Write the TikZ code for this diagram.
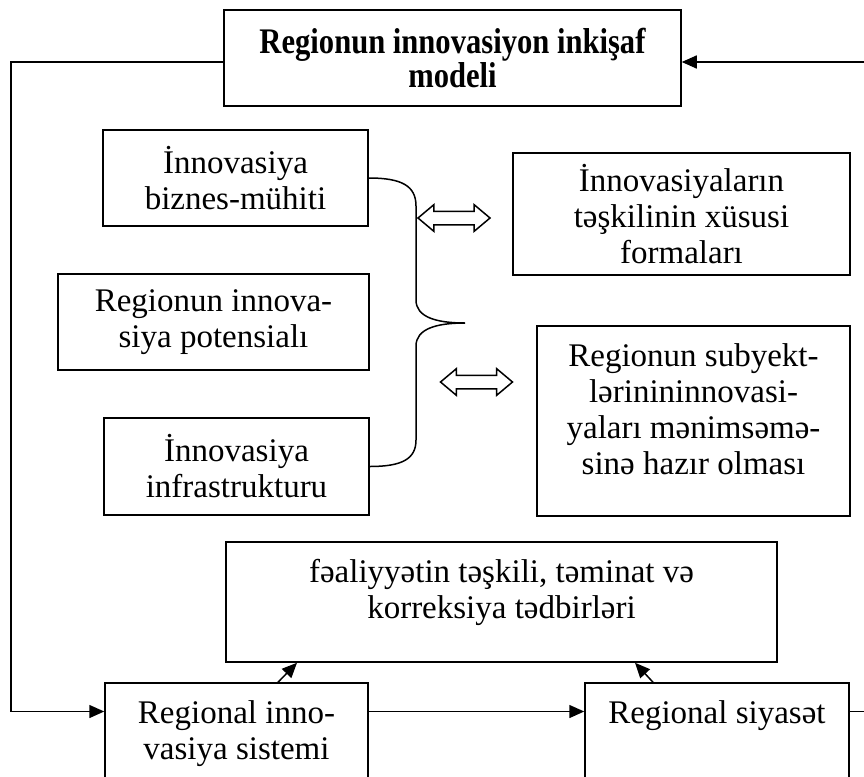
\documentclass[tikz,border=0pt]{standalone}
\usepackage{fontspec}
\setmainfont{Liberation Serif}
\newfontfamily\basliq{Liberation Serif}[FakeStretch=0.85]
\usetikzlibrary{arrows.meta,shapes.arrows}

\newcommand{\ustmetn}[3]{\parbox[c][#2][t]{#1}{\centering\vspace*{15pt}\strut#3}}

\begin{document}
\begin{tikzpicture}[x=1pt,y=-1pt,
  blok/.style={draw,line width=1.5pt,inner sep=0pt,align=center,font=\fontsize{33}{36}\selectfont},
  xet/.style={line width=1.5pt},
  ox/.style={xet,-{Triangle[length=15pt,width=13pt]}},
  qosa/.style={draw,line width=1.5pt,double arrow,double arrow head extend=6.5pt,
    double arrow tip angle=80,minimum height=72pt,inner xsep=0pt,inner ysep=6pt}] % sxem

\useasboundingbox (0,0) rectangle (864,776);
\clip (0,0) rectangle (864,776);

\node[blok,minimum width=457pt,minimum height=96pt,font=\basliq\bfseries\fontsize{36}{34}\selectfont] (model) at (452.5,58) {Regionun innovasiyon inkişaf\\modeli};

\node[blok,minimum width=265pt,minimum height=96pt] (muhit) at (235.5,178) {İnnovasiya\\biznes-mühiti};
\node[blok,minimum width=311pt,minimum height=96pt] (potensial) at (213.5,322) {Regionun innova-\\siya potensialı};
\node[blok,minimum width=265pt,minimum height=97pt] (infra) at (236.5,466.5) {İnnovasiya\\infrastrukturu};

\node[blok,minimum width=337pt,minimum height=122pt] (forma) at (681.5,214) {İnnovasiyaların\\təşkilinin xüsusi\\formaları};
\node[blok] (hazir) at (693.5,421) {\ustmetn{313pt}{190pt}{Regionun subyekt-\\lərinininnovasi-\\yaları mənimsəmə-\\sinə hazır olması}};

\node[blok] (tedbir) at (501.5,602) {\ustmetn{551pt}{120pt}{fəaliyyətin təşkili, təminat və\\korreksiya tədbirləri}};
\node[blok] (sistem) at (236.5,741.5) {\ustmetn{263pt}{117pt}{Regional inno-\\vasiya sistemi}};
\node[blok] (siyaset) at (717,741.5) {\ustmetn{264pt}{117pt}{Regional siyasət}};

\node[qosa] (q1) at (454,218) {};
\node[qosa] (q2) at (476.5,382) {};

% fiqurlu motterize
\draw[xet] (muhit.east) .. controls (402,178) and (416,186) .. (416,206) -- (416,300)
  .. controls (416,317) and (436,323) .. (465,323)
  .. controls (436,323) and (416,329) .. (416,346) -- (416,440)
  .. controls (416,459) and (402,466.5) .. (infra.east);

\coordinate (sol) at (11,400);
\coordinate (sag) at (864,62);
\coordinate (mw) at ([yshift=-4pt]model.west);
\coordinate (rsc) at ([yshift=30pt]siyaset.east);

\draw[ox] (sag) -- (sag -| model.east);
\draw[ox] (mw) -| (sol) |- (rsc -| sistem.west);
\draw[ox] (rsc -| sistem.east) -- (rsc -| siyaset.west);
\draw[xet] (rsc) -- (rsc -| sag);

\draw[ox] ([xshift=41.5pt]sistem.north) -- ([xshift=-204.5pt]tedbir.south);
\draw[ox] ([xshift=-64pt]siyaset.north) -- ([xshift=133.5pt]tedbir.south);

\end{tikzpicture}
\end{document}
